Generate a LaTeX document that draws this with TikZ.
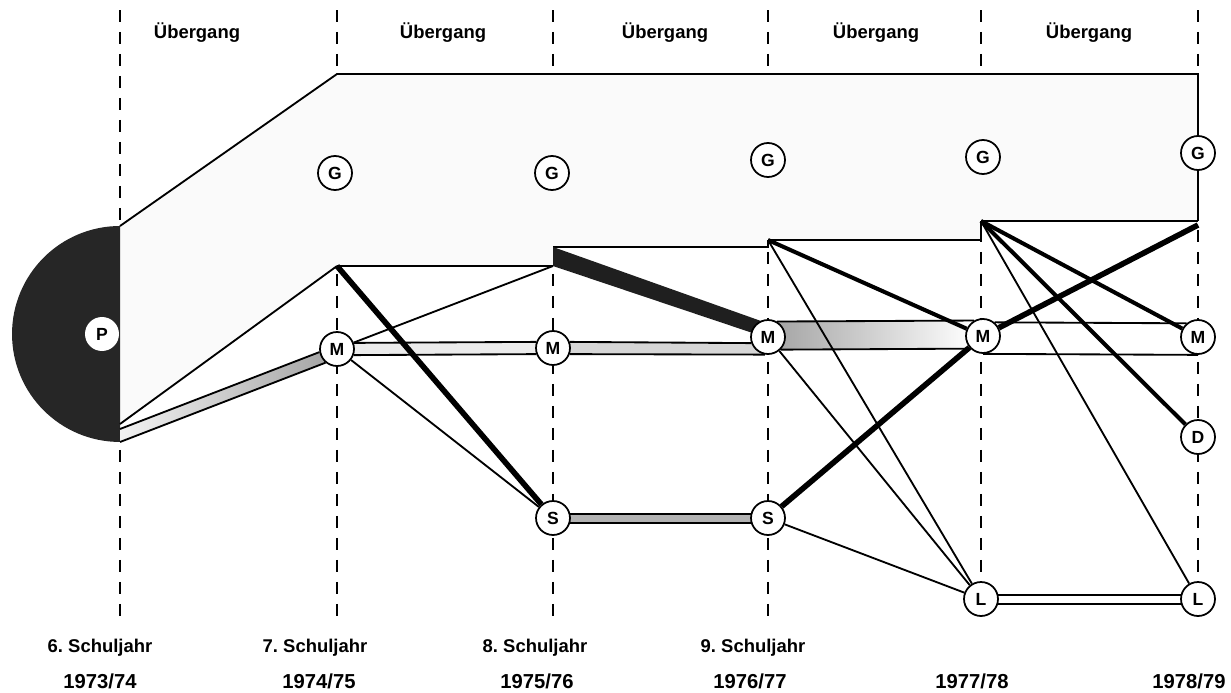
\documentclass[tikz,border=0pt]{standalone}
\usepackage{fontspec}
\setmainfont{Liberation Sans}
\usetikzlibrary{backgrounds}

\tikzset{
  kreis/.style={circle, draw, line width=1pt, fill=white, minimum size=0.68cm, inner sep=0pt, font=\fontsize{10}{10}\selectfont\bfseries},
  spalte/.style={dash pattern=on 0.24cm off 0.2cm, line width=0.6pt},
  duenn/.style={line width=1.05pt},
  mittel/.style={line width=2.3pt},
  dick/.style={line width=3.2pt},
  schrift/.style={font=\fontsize{10.5}{12}\selectfont\bfseries},
  jahr/.style={font=\fontsize{11.5}{13}\selectfont\bfseries}
}

\begin{document}
\begin{tikzpicture}[x=0.02cm, y=-0.02cm]

    \useasboundingbox (0,0) rectangle (1231,693);

    % corner points
    \coordinate (a0) at (120,226);
    \coordinate (pa) at (120,424);
    \coordinate (pc) at (120,429);
    \coordinate (pb) at (120,442);
    \coordinate (t1) at (337,74);
    \coordinate (t5) at (1198,74);
    \coordinate (k1) at (337,266);
    \coordinate (k2) at (553,247);
    \coordinate (k3) at (768,240);
    \coordinate (k4) at (981,221);
    \coordinate (k5) at (1198,225);

    % P entity
    \node[kreis, draw=none] (p) at (102,334) {P};

    % G nodes
    \node[kreis] (g1) at (335,173) {G};
    \node[kreis] (g2) at (552,173) {G};
    \node[kreis] (g3) at (768,160) {G};
    \node[kreis] (g4) at (983,157) {G};
    \node[kreis] (g5) at (1198,153) {G};

    % M nodes
    \node[kreis] (m1) at (337,349) {M};
    \node[kreis] (m2) at (553,348) {M};
    \node[kreis] (m3) at (768,337) {M};
    \node[kreis] (m4) at (983,336) {M};
    \node[kreis] (m5) at (1198,337) {M};

    % S, L, D nodes
    \node[kreis] (s2) at (553,518) {S};
    \node[kreis] (s3) at (768,518) {S};
    \node[kreis] (l4) at (981,599) {L};
    \node[kreis] (l5) at (1198,599) {L};
    \node[kreis] (d5) at (1198,437) {D};

    % Uebergang labels
    \node[schrift] (ue1) at (197,33) {Übergang};
    \node[schrift] (ue2) at (443,33) {Übergang};
    \node[schrift] (ue3) at (665,33) {Übergang};
    \node[schrift] (ue4) at (876,33) {Übergang};
    \node[schrift] (ue5) at (1089,33) {Übergang};

    % school years
    \node[schrift] (sj6) at (100,648) {6.\ Schuljahr};
    \node[schrift] (sj7) at (315,648) {7.\ Schuljahr};
    \node[schrift] (sj8) at (535,648) {8.\ Schuljahr};
    \node[schrift] (sj9) at (753,648) {9.\ Schuljahr};
    \node[jahr] (j73) at (100,681) {1973/74};
    \node[jahr] (j74) at (319,681) {1974/75};
    \node[jahr] (j75) at (537,681) {1975/76};
    \node[jahr] (j76) at (750,681) {1976/77};
    \node[jahr] (j77) at (972,681) {1977/78};
    \node[jahr] (j78) at (1189,681) {1978/79};

    \begin{scope}[on background layer]
        % columns
        \foreach \x in {120,337,553,768,981,1198}
            \draw[spalte] (\x,10) -- (\x,625);

        % G area
        \fill[black!2] (a0) -- (t1) -- (t5) -- (k4 -| t5) -- (k4) -- (k3 -| k4) -- (k3) -- (k2 -| k3)
            -- (k2) -- (k1 -| k2) -- (k1) -- (pa) -- cycle;
        \fill[black!85] (a0) arc[start angle=90, end angle=270, radius=2.16cm] -- cycle;

        % outline
        \draw[duenn] (a0) -- (t1) -- (t5) -- (g5);
        \draw[duenn] (g5) -- (k4 -| t5);
        \draw[duenn] (k1) -- (k1 -| k2);
        \draw[duenn] (k2) -- (k2 -| k3) -- (k3);
        \draw[duenn] (k3) -- (k3 -| k4) -- (k4);
        \draw[duenn] (k4) -- (k4 -| t5);

        % P to M
        \shade[left color=black!5, right color=black!35] (pc) -- (m1.190) -- (m1.230) -- (pb) -- cycle;
        \draw[duenn] (pc) -- (m1.190);
        \draw[duenn] (pb) -- (m1.230);
        \draw[duenn] (pa) -- (k1);

        % M bands
        \fill[black!8] (m1.20) -- (m2.160) -- (m2.-160) -- (m1.-20) -- cycle;
        \draw[duenn] (m1.20) -- (m2.160);
        \draw[duenn] (m1.-20) -- (m2.-160);
        \fill[black!16] (m2.20) -- (m3.-160) -- (m3.-100) -- (m2.-20) -- cycle;
        \draw[duenn] (m2.20) -- (m3.-160);
        \draw[duenn] (m2.-20) -- (m3.-100);
        \shade[left color=black!35, right color=white] (m3.60) -- (m4.120) -- (m4.-135) -- (m3.-45) -- cycle;
        \draw[duenn] (m3.60) -- (m4.120);
        \draw[duenn] (m3.-45) -- (m4.-135);
        \draw[duenn] (m4.50) -- (m5.130);
        \draw[duenn] (m4.south) -- (m5.south);

        % S and L bands
        \fill[black!30] (s2.14) -- (s3.166) -- (s3.-163) -- (s2.-17) -- cycle;
        \draw[duenn] (s2.14) -- (s3.166);
        \draw[duenn] (s2.-17) -- (s3.-163);
        \draw[duenn] (l4.14) -- (l5.166);
        \draw[duenn] (l4.-17) -- (l5.-163);

        % 7th year
        \draw[duenn] (m1) -- (k1 -| k2);
        \draw[duenn] (m1) -- (s2);
        \draw[dick] (k1) -- (s2);

        % 8th year
        \fill[black!88] (k2) -- (m3.115) -- (m3.165) -- (k1 -| k2) -- cycle;

        % 9th year
        \draw[mittel] (k3) -- (m4);
        \draw[duenn] (k3) -- (l4);
        \draw[duenn] (m3) -- (l4);
        \draw[duenn] (s3) -- (l4);
        \draw[dick] (s3) -- (m4);

        % 10th year
        \draw[dick] (m4) -- (k5);
        \draw[mittel] (k4) -- (m5);
        \draw[mittel] (k4) -- (d5);
        \draw[duenn] (k4) -- (l5);
    \end{scope}
\end{tikzpicture}
\end{document}
